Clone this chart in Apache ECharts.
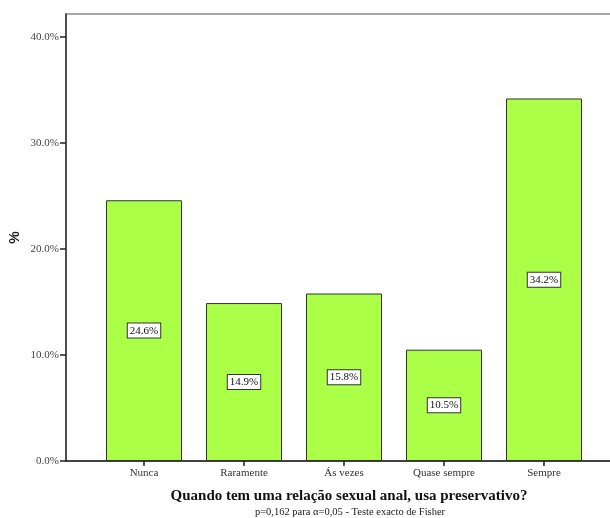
<!DOCTYPE html>
<html>
<head>
<meta charset="utf-8">
<script src="https://cdn.jsdelivr.net/npm/echarts@6/dist/echarts.min.js"></script>
<style>
  html, body { margin: 0; padding: 0; background: #fff; }
  #chart { width: 610px; height: 518px; }
</style>
</head>
<body>
<div id="chart"></div>
<script>
// Response categories and their percentages
const categories = ['Nunca', 'Raramente', 'Ás vezes', 'Quase sempre', 'Sempre'];
const percents = [24.6, 14.9, 15.8, 10.5, 34.2];
const yTicks = [0, 10, 20, 30, 40];
const xTitle = 'Quando tem uma relação sexual anal, usa preservativo?';
const xSubtitle = 'p=0,162 para α=0,05 - Teste exacto de Fisher';

const positions = categories.map((_, i) => i + 1);
const serif = '"Liberation Serif", "DejaVu Serif", serif';

const chart = echarts.init(document.getElementById('chart'), null, { renderer: 'canvas' });

chart.setOption({
  animation: false,
  backgroundColor: '#ffffff',
  grid: {
    left: 66, right: -10, top: 14, bottom: 57,
    outerBoundsMode: 'none',
    containLabel: false,
    show: true, borderColor: '#8a8a8a', borderWidth: 1.5, backgroundColor: 'transparent'
  },
  title: [
    {
      text: xTitle, left: 344, top: 484, textAlign: 'center',
      textStyle: { fontFamily: serif, fontSize: 15, fontWeight: 'bold', color: '#111' }
    },
    {
      text: xSubtitle, left: 345, top: 502, textAlign: 'center',
      textStyle: { fontFamily: serif, fontSize: 10.5, fontWeight: 'normal', color: '#222' }
    }
  ],
  xAxis: {
    type: 'value',
    min: 0.22,
    max: 5.76,
    splitLine: { show: false },
    axisLine: { show: true, onZero: false, lineStyle: { color: '#222', width: 1.5 } },
    axisTick: { show: true, length: 5, customValues: positions, lineStyle: { color: '#222', width: 1.5 } },
    axisLabel: {
      customValues: positions,
      margin: 7,
      fontFamily: serif, fontSize: 11, color: '#333',
      formatter: v => categories[Math.round(v) - 1] || ''
    }
  },
  yAxis: {
    type: 'value',
    min: 0,
    max: 42.17,
    interval: 10,
    name: '%',
    nameLocation: 'middle',
    nameGap: 44,
    nameMoveOverlap: false,
    nameRotate: 90,
    nameTextStyle: { fontFamily: '"Liberation Sans", Arial, sans-serif', fontSize: 14, fontWeight: 'bold', color: '#222' },
    splitLine: { show: false },
    axisLine: { show: true, lineStyle: { color: '#333', width: 1.5 } },
    axisTick: { show: true, length: 6, customValues: yTicks, lineStyle: { color: '#222', width: 1.5 } },
    axisLabel: {
      customValues: yTicks,
      margin: 7,
      fontFamily: serif, fontSize: 11, color: '#444',
      formatter: v => v.toFixed(1) + '%'
    }
  },
  series: [{
    type: 'bar',
    barWidth: 76,
    data: positions.map((p, i) => [p, percents[i]]),
    itemStyle: { color: '#abff47', borderColor: '#333333', borderWidth: 1 },
    label: {
      show: true,
      position: 'inside',
      formatter: p => p.value[1].toFixed(1) + '%',
      fontFamily: serif, fontSize: 11, color: '#111',
      backgroundColor: '#ffffff',
      borderColor: '#333', borderWidth: 1,
      padding: [2, 2, 1, 2]
    }
  }]
});
</script>
</body>
</html>
